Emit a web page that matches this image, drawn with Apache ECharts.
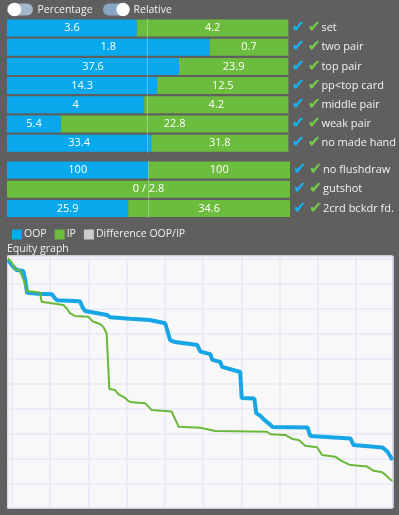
<!DOCTYPE html>
<html>
<head>
<meta charset="utf-8">
<script src="https://cdn.jsdelivr.net/npm/echarts@6/dist/echarts.min.js"></script>
<style>
html,body{margin:0;padding:0;background:#5f5f5f;}
#chart{width:399px;height:515px;}
</style>
</head>
<body>
<div id="chart"></div>
<script>
// made hands block
var madeCats = ['set', 'two pair', 'top pair', 'pp<top card', 'middle pair', 'weak pair', 'no made hand'];
var madeOop = [3.6, 1.8, 37.6, 14.3, 4, 5.4, 33.4];
var madeIp = [4.2, 0.7, 23.9, 12.5, 4.2, 22.8, 31.8];
// draws block
var drawCats = ['no flushdraw', 'gutshot', '2crd bckdr fd.'];
var drawOop = [100, 0, 25.9];
var drawIp = [100, 2.8, 34.6];
// equity graph: [range %, equity %]
var equityOop = [[-1, 99.3], [-0.5, 98.4], [0.4, 96.6], [1.3, 95.3], [3, 94.9], [3.5, 91.5], [4, 86.3],
    [6.9, 85.9], [10.5, 85.7], [11.2, 84.2], [11.8, 83.3], [17.8, 82.9], [18.6, 80.2], [19.2, 79],
    [24.9, 77.4], [25.7, 76.5], [30.9, 75.9], [36.1, 75.4], [40.1, 74.1], [41.4, 67.4], [42.7, 66.6],
    [48.5, 65.4], [49.3, 62.8], [51.9, 61.8], [52.4, 59.5], [54.5, 58.7], [55, 56.7], [59.7, 54.7],
    [60.1, 44.3], [63.4, 44.1], [63.9, 38.3], [65, 37.2], [66, 35.6], [67.6, 33.6], [68.1, 32.8],
    [77.3, 32.6], [78, 29.2], [88.5, 28.2], [89.3, 25.6], [96.9, 24.6], [98.2, 22.9], [99.5, 19.6]];
var equityIp = [[-1, 100], [0, 98.3], [0.8, 95.6], [2.1, 95.2], [3.2, 91], [3.9, 87], [7.4, 86.4],
    [7.8, 82.7], [13.5, 81.4], [14.4, 80], [15.2, 78.1], [16.5, 77], [20, 76.7], [21.3, 74.7],
    [23.1, 73.8], [23.9, 72.7], [24.8, 70.1], [25.3, 69.4], [25.5, 47.9], [27, 47.5], [27.9, 45.8],
    [29.2, 44.8], [30.5, 43.1], [31.4, 42.6], [34.9, 42.2], [36.6, 39.5], [41.8, 38.9], [43.6, 32.9],
    [49.3, 32.5], [53.2, 31.2], [66.7, 30.9], [67.6, 29.9], [71.5, 29.6], [73.3, 28], [75, 27.6],
    [76.7, 25.3], [79.8, 24.7], [81.1, 21.6], [84.6, 20.9], [86.3, 19.2], [88.5, 17.6], [92.9, 17],
    [94.6, 15.3], [96.8, 14.7], [97.7, 13.7], [99, 11.7], [99.5, 11.3]];

var FONT = '"Open Sans", sans-serif';
var BLUE = '#08a9ec';
var GREEN = '#6cbd3d';

// relative mode: each row split by share
function share(oop, ip) {
    return oop.map(function (v, i) { return v / (v + ip[i]); });
}

function barSeries(name, fracs, raw, other, gridIdx, isOop) {
    return {
        name: name,
        type: 'bar',
        stack: 'row' + gridIdx,
        xAxisIndex: gridIdx,
        yAxisIndex: gridIdx,
        barWidth: 17,
        itemStyle: {color: isOop ? BLUE : GREEN},
        label: {
            show: true,
            position: 'inside',
            color: '#fff',
            fontFamily: FONT,
            fontSize: 11,
            formatter: function (p) {
                var v = raw[p.dataIndex];
                if (!isOop && other[p.dataIndex] === 0) return '0 / ' + v;
                return v === 0 ? '' : String(v);
            }
        },
        markLine: isOop ? {
            silent: true,
            symbol: 'none',
            label: {show: false},
            lineStyle: {color: 'rgba(255,255,255,0.3)', width: 1, type: 'solid'},
            data: [{xAxis: 0.5}]
        } : undefined,
        data: isOop ? fracs : fracs.map(function (f) { return 1 - f; })
    };
}

function catAxis(cats, gridIdx) {
    return {
        type: 'category',
        gridIndex: gridIdx,
        data: cats,
        inverse: true,
        position: 'right',
        axisLine: {show: false},
        axisTick: {show: false},
        axisLabel: {
            margin: 3,
            formatter: function (v) { return '{b|✔}{g|✔}{t|' + v + '}'; },
            rich: {
                b: {color: '#1ab0f0', fontFamily: 'DejaVu Sans', fontSize: 16, width: 16},
                g: {color: '#74c84a', fontFamily: 'DejaVu Sans', fontSize: 16, width: 14},
                t: {color: '#f2f2f2', fontFamily: FONT, fontSize: 11}
            }
        }
    };
}

var madeShare = share(madeOop, madeIp);
var drawShare = share(drawOop, drawIp);

var chart = echarts.init(document.getElementById('chart'));
chart.setOption({
    backgroundColor: '#5f5f5f',
    animation: false,
    title: {
        text: 'Equity graph',
        left: 2,
        top: 239,
        textStyle: {color: '#f2f2f2', fontFamily: FONT, fontSize: 10.5, fontWeight: 'normal'}
    },
    legend: {
        left: 7,
        top: 224,
        itemWidth: 10,
        itemHeight: 10,
        itemGap: 8,
        icon: 'rect',
        selectedMode: false,
        textStyle: {color: '#f2f2f2', fontFamily: FONT, fontSize: 10.5, padding: [0, 0, 0, -3]},
        data: ['OOP', 'IP', 'Difference OOP/IP']
    },
    graphic: [
        {type: 'rect', shape: {x: 7, y: 3.5, width: 26, height: 12, r: 6}, style: {fill: '#a3b7cb'}},
        {type: 'circle', shape: {cx: 14.5, cy: 9.5, r: 6.7}, style: {fill: '#ffffff'}},
        {type: 'text', style: {x: 37.5, y: 10, text: 'Percentage', fill: '#f2f2f2', font: '10.5px "Open Sans"', verticalAlign: 'middle'}},
        {type: 'rect', shape: {x: 103, y: 3.5, width: 26.5, height: 12, r: 6}, style: {fill: '#8aa6c2'}},
        {type: 'circle', shape: {cx: 123, cy: 9.5, r: 6.7}, style: {fill: '#ffffff'}},
        {type: 'text', style: {x: 133.5, y: 10, text: 'Relative', fill: '#f2f2f2', font: '10.5px "Open Sans"', verticalAlign: 'middle'}}
    ],
    grid: [
        {left: 7, width: 283, top: 18.4, height: 134.4},
        {left: 7, width: 283, top: 160.4, height: 57.7},
        {left: 7.5, width: 385, top: 256, height: 252, show: true,
            backgroundColor: '#f8f8f8', borderColor: '#b4b4b4', borderWidth: 1}
    ],
    xAxis: [
        {type: 'value', gridIndex: 0, min: 0, max: 1, show: false},
        {type: 'value', gridIndex: 1, min: 0, max: 1, show: false},
        {type: 'value', gridIndex: 2, min: -1.1, max: 99.5, splitNumber: 10,
            axisLine: {show: false}, axisTick: {show: false}, axisLabel: {show: false},
            splitLine: {show: true, lineStyle: {color: '#e8e8f6', width: 1.5}}}
    ],
    yAxis: [
        catAxis(madeCats, 0),
        catAxis(drawCats, 1),
        {type: 'value', gridIndex: 2, min: 0.5, max: 100.9, splitNumber: 10,
            axisLine: {show: false}, axisTick: {show: false}, axisLabel: {show: false},
            splitLine: {show: true, lineStyle: {color: '#e8e8f6', width: 1.5}}}
    ],
    series: [
        barSeries('OOP', madeShare, madeOop, madeIp, 0, true),
        barSeries('IP', madeShare, madeIp, madeOop, 0, false),
        barSeries('OOP', drawShare, drawOop, drawIp, 1, true),
        barSeries('IP', drawShare, drawIp, drawOop, 1, false),
        {name: 'Difference OOP/IP', type: 'line', xAxisIndex: 2, yAxisIndex: 2,
            itemStyle: {color: '#cccccc'}, data: []},
        {name: 'OOP', type: 'line', xAxisIndex: 2, yAxisIndex: 2, showSymbol: false,
            itemStyle: {color: BLUE}, lineStyle: {color: '#16a6e6', width: 4}, data: equityOop},
        {name: 'IP', type: 'line', xAxisIndex: 2, yAxisIndex: 2, showSymbol: false,
            itemStyle: {color: GREEN}, lineStyle: {color: '#69b83a', width: 2}, data: equityIp}
    ]
});
</script>
</body>
</html>
